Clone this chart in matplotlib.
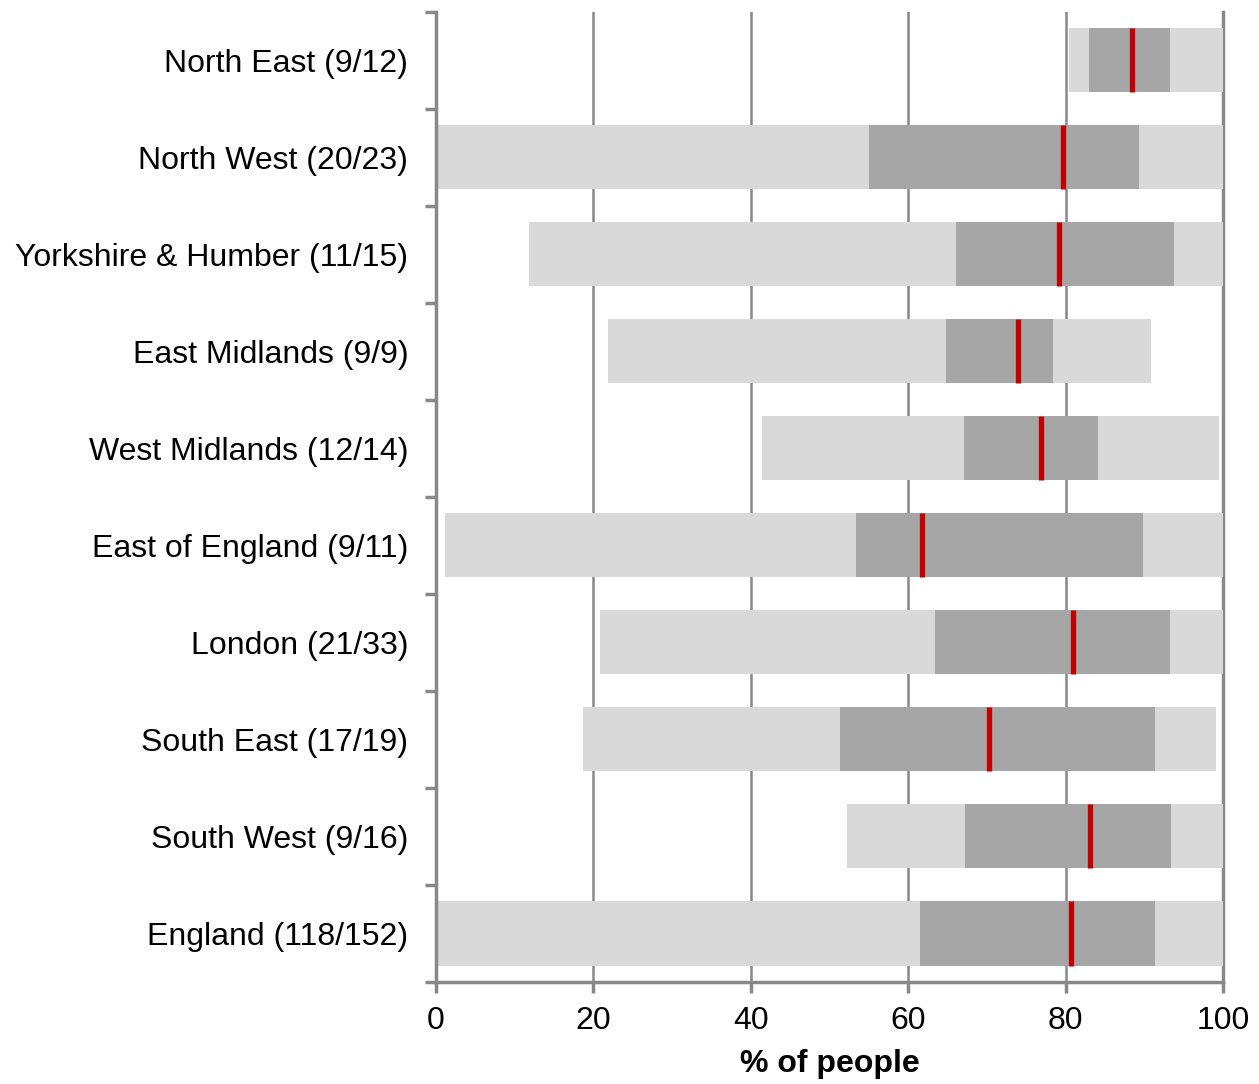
import matplotlib
matplotlib.use("Agg")
import matplotlib.pyplot as plt
import numpy as np

plt.rcParams["font.family"] = ["Liberation Sans", "DejaVu Sans"]

# Regions, top to bottom
regions = [
    "North East (9/12)", "North West (20/23)", "Yorkshire & Humber (11/15)",
    "East Midlands (9/9)", "West Midlands (12/14)", "East of England (9/11)",
    "London (21/33)", "South East (17/19)", "South West (9/16)",
    "England (118/152)",
]
# Range (min / max), interquartile range and median, % of people
min_vals = [80.4, 0.0, 11.8, 21.9, 41.4, 1.1, 20.8, 18.7, 52.2, 0.0]
max_vals = [100.0, 100.0, 100.0, 90.9, 99.5, 100.0, 100.0, 99.1, 100.0, 100.0]
q1_vals = [83.0, 55.0, 66.1, 64.8, 67.1, 53.4, 63.4, 51.3, 67.2, 61.5]
q3_vals = [93.3, 89.3, 93.8, 78.4, 84.1, 89.8, 93.3, 91.4, 93.4, 91.4]
medians = [88.4, 79.7, 79.2, 74.0, 76.9, 61.8, 80.9, 70.3, 83.1, 80.7]

GREY = "#888888"
LIGHT = "#d9d9d9"
DARK = "#a6a6a6"
RED = "#c00000"
BAR_H = 0.66
FS = 23

fig = plt.figure(figsize=(12.59, 10.84), dpi=100)
ax = fig.add_axes([0.3463, 0.0941, 0.6251, 0.8949])

y = np.arange(len(regions))
mn, mx = np.array(min_vals), np.array(max_vals)
q1, q3 = np.array(q1_vals), np.array(q3_vals)

ax.barh(y, mx - mn, left=mn, height=BAR_H, color=LIGHT, zorder=2)
ax.barh(y, q3 - q1, left=q1, height=BAR_H, color=DARK, zorder=3)
ax.vlines(medians, y - BAR_H / 2, y + BAR_H / 2, color=RED, lw=3.8, zorder=4)

ax.set_xlim(0, 100)
ax.set_ylim(len(regions) - 0.5, -0.5)
ax.set_xticks(np.arange(0, 101, 20))
ax.tick_params(axis="x", labelsize=FS, length=8, width=2.5, color=GREY, pad=9)

# y ticks sit on category boundaries, labels centred on the bars
ax.set_yticks(np.arange(-0.5, len(regions)), minor=False)
ax.set_yticklabels([])
ax.set_yticks(y, minor=True)
ax.set_yticklabels(regions, minor=True, fontsize=FS)
ax.tick_params(axis="y", which="major", length=8, width=2.5, color=GREY)
ax.tick_params(axis="y", which="minor", length=0, pad=20)

ax.grid(axis="x", color=GREY, lw=1.8, zorder=1)
ax.set_axisbelow(True)
ax.axvline(100, color=GREY, lw=2.5, zorder=1, clip_on=False)

for side in ["top", "right"]:
    ax.spines[side].set_visible(False)
for side in ["left", "bottom"]:
    ax.spines[side].set_color(GREY)
    ax.spines[side].set_linewidth(2.5)

ax.set_xlabel("% of people", fontsize=FS, fontweight="bold", labelpad=10)

fig.savefig("out.png", dpi=100)
